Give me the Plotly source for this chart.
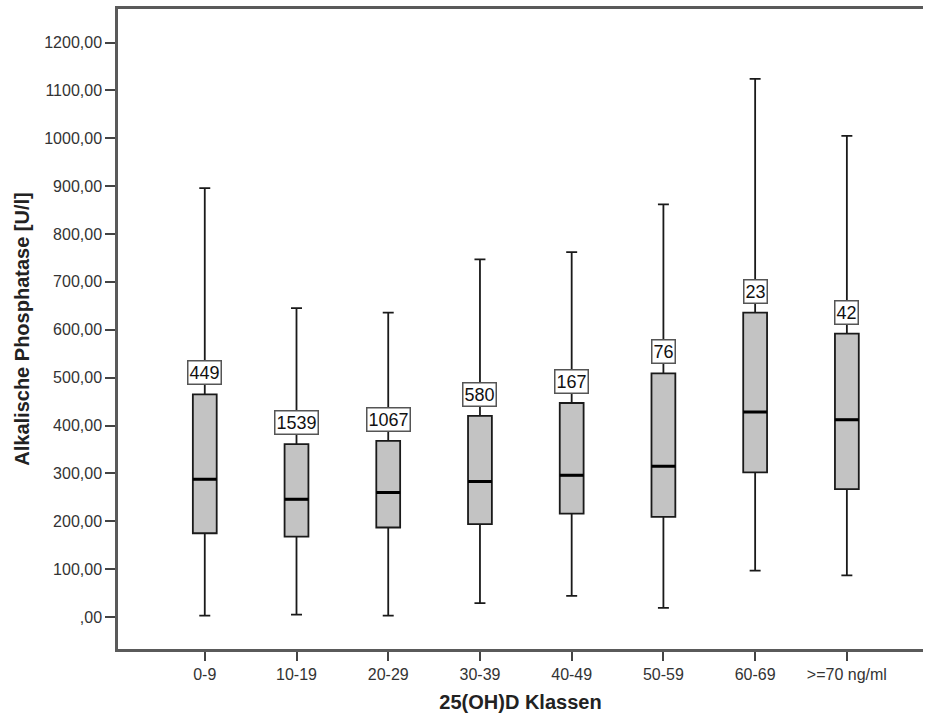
import plotly.graph_objects as go

categories = ["0-9", "10-19", "20-29", "30-39", "40-49", "50-59", "60-69", ">=70 ng/ml"]
n_labels = ["449", "1539", "1067", "580", "167", "76", "23", "42"]
lower_whisker = [3, 5, 3, 29, 44, 19, 97, 87]
q1_values = [175, 168, 187, 194, 216, 209, 302, 267]
median_values = [288, 246, 260, 283, 296, 315, 428, 412]
q3_values = [465, 361, 368, 420, 447, 509, 636, 592]
upper_whisker = [896, 645, 636, 747, 762, 862, 1124, 1005]

y_tickvals = [0, 100, 200, 300, 400, 500, 600, 700, 800, 900, 1000, 1100, 1200]
y_ticktext = [",00", "100,00", "200,00", "300,00", "400,00", "500,00", "600,00",
              "700,00", "800,00", "900,00", "1000,00", "1100,00", "1200,00"]

FONT = "Arial, Liberation Sans, sans-serif"

fig = go.Figure()
fig.add_trace(go.Box(
    x=categories, q1=q1_values, median=median_values, q3=q3_values,
    lowerfence=lower_whisker, upperfence=upper_whisker,
    fillcolor="#c3c3c3", line=dict(color="#1a1a1a", width=1.8),
    width=0.26, whiskerwidth=0.46, boxpoints=False, showlegend=False,
    hoverinfo="skip",
))
# thick median line drawn as a degenerate box
fig.add_trace(go.Box(
    x=categories, q1=median_values, median=median_values, q3=median_values,
    lowerfence=median_values, upperfence=median_values,
    fillcolor="#000000", line=dict(color="#000000", width=3),
    width=0.26, whiskerwidth=0, boxpoints=False, showlegend=False,
    hoverinfo="skip",
))

for c, q3, n in zip(categories, q3_values, n_labels):
    fig.add_annotation(
        x=c, y=q3, text=n, showarrow=False, yanchor="bottom", yshift=9,
        font=dict(family=FONT, size=18, color="#111111"),
        bgcolor="#ffffff", bordercolor="#555555", borderwidth=1.5, borderpad=1,
    )

fig.update_layout(
    width=925, height=715,
    margin=dict(l=118, r=2, t=9, b=66),
    paper_bgcolor="#ffffff", plot_bgcolor="#ffffff",
    boxmode="overlay",
    font=dict(family=FONT, color="#333333"),
)
fig.update_xaxes(
    type="category", categoryorder="array", categoryarray=categories,
    range=[-0.946, 7.83],
    showline=True, linecolor="#5a5a5a", linewidth=2.5, mirror=True,
    ticks="outside", ticklen=9, tickwidth=1.5, tickcolor="#444444",
    tickfont=dict(family=FONT, size=16, color="#333333"),
    showgrid=False, zeroline=False,
    title=dict(text="<b>25(OH)D Klassen</b>", font=dict(family=FONT, size=20, color="#222222"), standoff=14),
    automargin=False,
)
fig.update_yaxes(
    range=[-66.8, 1270],
    tickmode="array", tickvals=y_tickvals, ticktext=y_ticktext,
    showline=True, linecolor="#5a5a5a", linewidth=2.5,
    ticks="outside", ticklen=10, tickwidth=1.5, tickcolor="#444444",
    tickfont=dict(family=FONT, size=16, color="#333333"),
    showgrid=False, zeroline=False,
    title=dict(text="<b>Alkalische Phosphatase [U/l]</b>", font=dict(family=FONT, size=20, color="#222222"), standoff=10),
    automargin=False,
)

fig.write_html("out.html")
